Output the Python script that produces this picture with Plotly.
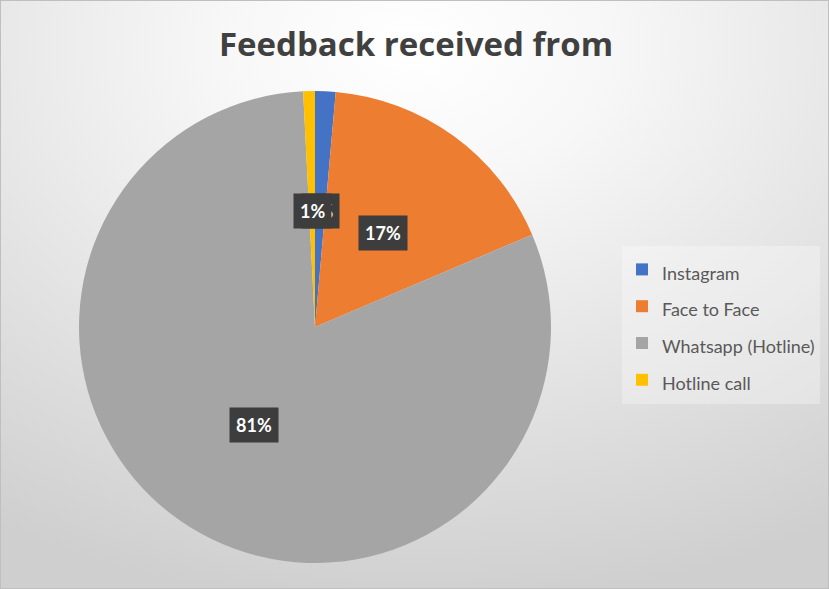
import base64
import math
import plotly.graph_objects as go

# ---- data ----
sources = ["Instagram", "Face to Face", "Whatsapp (Hotline)", "Hotline call"]
shares = [1.4, 17.2, 80.6, 0.8]
colors = ["#4472C4", "#ED7D31", "#A5A5A5", "#FFC000"]
title_text = "Feedback received from"

W, H = 829, 589
CX, CY_TOP, R = 315, 327, 236  # pie centre (px from left / top), radius

# background: radial gradient via SVG image
svg = f"""<svg xmlns='http://www.w3.org/2000/svg' width='{W}' height='{H}'>
<defs><radialGradient id='g' cx='50%' cy='8%' r='95%' fx='50%' fy='8%'>
<stop offset='0' stop-color='#ffffff'/><stop offset='0.25' stop-color='#f7f7f7'/>
<stop offset='1' stop-color='#cfcfcf'/></radialGradient></defs>
<rect width='{W}' height='{H}' fill='url(#g)'/>
<rect x='0.5' y='0.5' width='{W-1}' height='{H-1}' fill='none' stroke='#bfbfbf' stroke-width='1'/>
</svg>"""
bg_uri = "data:image/svg+xml;base64," + base64.b64encode(svg.encode()).decode()

dom_x = [(CX - R) / W, (CX + R) / W]
cy_b = H - CY_TOP
dom_y = [(cy_b - R) / H, (cy_b + R) / H]

# legend entries: larger legend font gives row spacing; label text itself at 18px
legend_labels = [f"<span style='font-size:18px'>{s}</span>" for s in sources]

fig = go.Figure(go.Pie(
    labels=legend_labels, values=shares, sort=False, direction="clockwise", rotation=0,
    marker=dict(colors=colors, line=dict(width=0)),
    textinfo="none", hoverinfo="label+percent",
    domain=dict(x=dom_x, y=dom_y),
))

# data labels placed at mid-angle of each slice (computed from the values)
total = sum(shares)
cum = 0
anns = []
for i, v in enumerate(shares):
    mid = (cum + v / 2) / total * 2 * math.pi
    cum += v
    rr = 0.49 * R
    px = CX + rr * math.sin(mid)
    py = cy_b + rr * math.cos(mid)
    txt = f"<b>{round(v / total * 100):.0f}%</b>"
    anns.append(dict(x=px / W, y=py / H, xref="paper", yref="paper", showarrow=False,
                     text=txt, font=dict(family="Lato", size=18, color="white"),
                     bgcolor="#3d3d3d", borderpad=6, xanchor="center", yanchor="middle"))

fig.update_layout(
    width=W, height=H,
    margin=dict(l=0, r=0, t=0, b=0),
    paper_bgcolor="#e6e6e6", plot_bgcolor="rgba(0,0,0,0)",
    images=[dict(source=bg_uri, xref="paper", yref="paper", x=0, y=1, sizex=1, sizey=1,
                 xanchor="left", yanchor="top", sizing="stretch", layer="below")],
    title=dict(text="<b>" + title_text + "</b>", x=416 / W, xanchor="center", y=1 - 44 / H, yanchor="middle",
               font=dict(family="Open Sans", size=33, color="#404040")),
    legend=dict(x=622 / W, xanchor="left", y=1 - 246 / H, yanchor="top",
                bgcolor="rgba(255,255,255,0.3)", font=dict(family="Lato", size=26, color="#595959"),
                itemwidth=30),
    annotations=anns,
    showlegend=True,
)

fig.write_html("out.html", config={"displayModeBar": False},
               post_script="document.body.style.margin='0';")
